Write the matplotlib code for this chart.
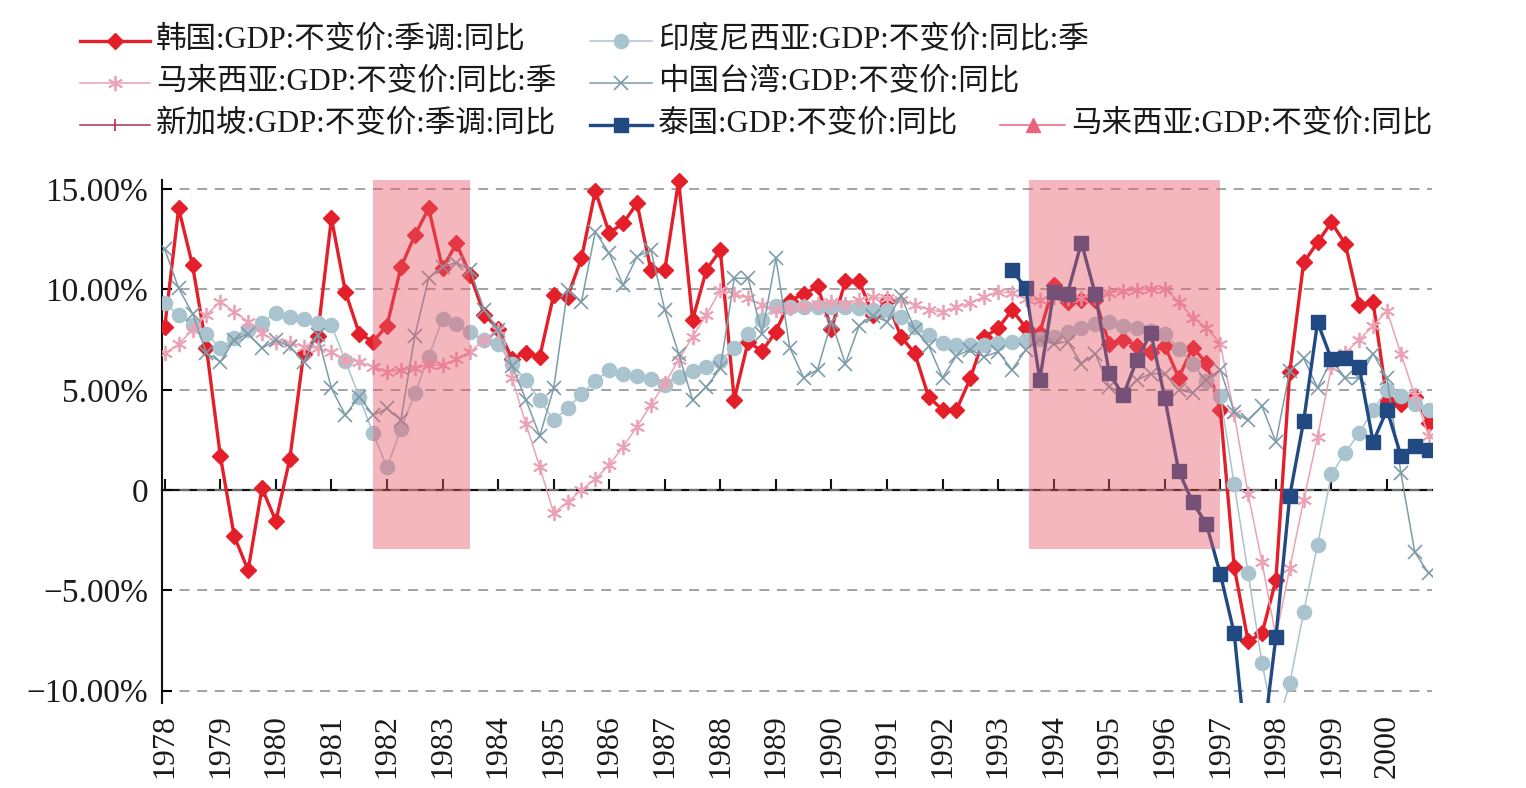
import numpy as np
import matplotlib
matplotlib.use("Agg")
import matplotlib.pyplot as plt
from matplotlib.lines import Line2D
from matplotlib.ticker import FuncFormatter

plt.rcParams['font.family'] = ['Liberation Serif', 'Noto Sans CJK SC']
plt.rcParams['axes.unicode_minus'] = True

# ---------------- data (quarterly, % yoy) ----------------
start_year = 1978
years = list(range(1978, 2001))

korea = [8.15, 14.05, 11.2, 7.1,
         1.7, -2.3, -4.0, 0.1,
         -1.55, 1.55, 6.8, 7.7,
         13.55, 9.9, 7.8, 7.4,
         8.2, 11.1, 12.7, 14.05,
         11.05, 12.3, 10.7, 8.75,
         8.05, 6.55, 6.85, 6.65,
         9.73, 9.64, 11.55, 14.92,
         12.82, 13.3, 14.3, 10.97,
         10.97, 15.42, 8.48, 10.98,
         11.97, 4.5, 7.4, 6.92,
         7.9, 9.45, 9.77, 10.15,
         8.05, 10.4, 10.4, 8.73,
         9.45, 7.65, 6.82, 4.64,
         4.0, 3.99, 5.57, 7.63,
         8.06, 8.98, 8.1, 7.85,
         10.2, 9.4, 9.5, 9.5,
         7.3, 7.5, 7.2, 6.86,
         7.2, 5.6, 7.1, 6.35,
         4.0, -3.84, -7.54, -7.15,
         -4.5, 5.9, 11.35, 12.35,
         13.35, 12.27, 9.25, 9.37,
         4.5, 4.3, 4.65, 3.35]

indonesia = [9.31, 8.73, 8.23, 7.78,
             7.07, 7.56, 7.98, 8.35,
             8.84, 8.61, 8.51, 8.31,
             8.23, 6.45, 4.65, 2.83,
             1.13, 3.03, 4.82, 6.65,
             8.53, 8.26, 7.86, 7.48,
             7.27, 6.28, 5.49, 4.47,
             3.49, 4.07, 4.8, 5.42,
             6.0, 5.8, 5.67, 5.55,
             5.24, 5.65, 5.95, 6.15,
             6.43, 7.1, 7.78, 8.48,
             9.18, 9.14, 9.12, 9.12,
             9.12, 9.12, 9.1, 8.98,
             8.98, 8.65, 8.15, 7.75,
             7.32, 7.25, 7.25, 7.23,
             7.35, 7.4, 7.5, 7.55,
             7.61, 7.9, 8.1, 8.28,
             8.4, 8.2, 8.1, 7.95,
             7.8, 7.04, 6.3, 5.45,
             4.7, 0.28, -4.14, -8.65,
             -12.0, -9.63, -6.09, -2.73,
             0.78, 1.87, 2.85, 3.98,
             4.98, 4.69, 4.29, 3.99]

malaysia_q = [6.82, 7.28, 8.0, 8.73,
              9.39, 8.89, 8.4, 7.81,
              7.4, 7.35, 7.15, 7.07,
              6.9, 6.48, 6.4, 6.15,
              5.9, 5.98, 6.07, 6.23,
              6.23, 6.52, 6.9, 7.48,
              8.0, 5.6, 3.3, 1.15,
              -1.15, -0.6, 0.0, 0.55,
              1.25, 2.16, 3.16, 4.24,
              5.32, 6.48, 7.65, 8.73,
              9.98, 9.78, 9.56, 9.23,
              8.98, 9.1, 9.2, 9.3,
              9.4, 9.3, 9.5, 9.62,
              9.56, 9.48, 9.23, 9.0,
              8.87, 9.12, 9.33, 9.64,
              9.9, 9.81, 9.53, 9.48,
              9.64, 9.6, 9.6, 9.64,
              9.85, 9.93, 9.98, 10.03,
              10.03, 9.4, 8.6, 8.1,
              7.3, 3.78, -0.2, -3.6,
              -7.33, -3.9, -0.5, 2.66,
              6.15, 6.85, 7.5, 8.18,
              8.94, 6.8, 4.72, 2.7]

taiwan = [12.0, 10.06, 8.8, 6.82,
          6.4, 7.48, 7.8, 7.07,
          7.48, 7.15, 6.4, 7.73,
          5.07, 3.74, 4.65, 3.74,
          4.07, 3.49, 7.68, 10.56,
          11.14, 11.34, 10.97, 8.98,
          8.0, 6.2, 4.5, 2.7,
          5.07, 9.98, 9.39, 12.88,
          11.8, 10.22, 11.64, 11.97,
          8.98, 6.8, 4.49, 5.15,
          6.07, 10.56, 10.56, 7.8,
          11.55, 7.1, 5.6, 6.0,
          8.4, 6.3, 8.2, 8.7,
          8.4, 9.7, 8.0, 7.2,
          5.6, 6.7, 7.0, 6.65,
          6.9, 6.0, 7.0, 7.5,
          7.3, 7.4, 6.3, 6.8,
          5.15, 4.82, 5.49, 5.8,
          5.8, 5.0, 4.85, 5.5,
          6.0, 3.9, 3.47, 4.18,
          2.4, 5.95, 6.57, 5.1,
          6.48, 5.59, 5.59, 6.8,
          5.59, 0.85, -3.1, -4.15]

thailand_start = 1993.25
thailand = [10.97, 10.06, 5.49, 9.87,
            9.8, 12.34, 9.76, 5.84,
            4.72, 6.5, 7.83, 4.6,
            0.95, -0.6, -1.7, -4.19,
            -7.15, -14.0, -13.0, -7.33,
            -0.28, 3.44, 8.37, 6.52,
            6.57, 6.12, 2.4, 4.0,
            1.72, 2.2, 2.01]

singapore = []          # no observations in this window
malaysia_annual = []    # no observations in this window

labels = ['韩国:GDP:不变价:季调:同比', '印度尼西亚:GDP:不变价:同比:季',
          '马来西亚:GDP:不变价:同比:季', '中国台湾:GDP:不变价:同比',
          '新加坡:GDP:不变价:季调:同比', '泰国:GDP:不变价:同比',
          '马来西亚:GDP:不变价:同比']

shade_start = [1981.75, 1993.55]
shade_end = [1983.5, 1997.0]
shade_low, shade_high = -2.95, 15.45

yticks = [-10, -5, 0, 5, 10, 15]
y_axis_low, y_axis_high = -10.62, 15.46

# ---------------- styles ----------------
styles = [
    dict(color='#E41F2A', lw=2.4, marker='D', ms=8.3, mec='#E41F2A', mfc='#E41F2A'),
    dict(color='#A9C4CF', lw=1.1, marker='o', ms=10.2, mec='#A9C4CF', mfc='#A9C4CF'),
    dict(color='#EBA2B5', lw=1.1, marker=(6, 2, 0), ms=11, mew=1.3, mec='#EBA2B5'),
    dict(color='#7D9CAA', lw=1.1, marker='x', ms=10, mew=1.2, mec='#7D9CAA'),
    dict(color='#B0304F', lw=1.1, marker='|', ms=8, mew=1.2, mec='#B0304F'),
    dict(color='#224A82', lw=2.4, marker='s', ms=10.5, mec='#224A82', mfc='#224A82'),
    dict(color='#E8637C', lw=1.1, marker='^', ms=10, mec='#E8637C', mfc='#E8637C'),
]

W, H = 1526, 788
px_per_pct = 20.05
top_extra = 0.8  # headroom so peak markers are not cut
ax_top_px = 180 - top_extra * px_per_pct
fig = plt.figure(figsize=(W / 100, H / 100), dpi=100)
ax = fig.add_axes([162 / W, 1 - 703 / H, (1432 - 162) / W, (703 - ax_top_px) / H])

def qtime(n, start):
    return start + np.arange(n) / 4.0

series = [korea, indonesia, malaysia_q, taiwan, singapore, thailand, malaysia_annual]
starts = [start_year, start_year, start_year, start_year, start_year, thailand_start, start_year]
for i, (vals, st, sty) in enumerate(zip(series, starts, styles)):
    if len(vals) == 0:
        continue
    ax.plot(qtime(len(vals), st), vals, zorder=3 + i * 0.1, **sty)

# shaded periods (semi-transparent, drawn above lines)
for s, e in zip(shade_start, shade_end):
    ax.fill_between([s, e], [shade_low, shade_low], [shade_high, shade_high],
                    color='#E85A6A', alpha=0.43, lw=0, zorder=10)

ax.set_xlim(1977.95, 2000.81)
ax.set_ylim(y_axis_low, y_axis_high + top_extra)

# grid
ax.set_yticks(yticks)
ax.yaxis.grid(True, linestyle=(0, (6.5, 5)), color='#8a8a8a', lw=1.1, zorder=1)
ax.set_axisbelow(True)

def fmt(v, pos):
    if abs(v) < 1e-9:
        return '0'
    s = f'{v:.2f}%'
    return s.replace('-', '\u2212')
ax.yaxis.set_major_formatter(FuncFormatter(fmt))
ax.tick_params(axis='y', direction='in', length=7, width=1.5, labelsize=24, pad=10,
               labelcolor='#1a1a1a')

ax.set_xticks(years)
ax.set_xticklabels([str(y) for y in years], rotation=90)
ax.tick_params(axis='x', length=0, labelsize=23, pad=8, labelcolor='#1a1a1a')

for sp in ['top', 'right', 'bottom']:
    ax.spines[sp].set_visible(False)
ax.spines['left'].set_linewidth(1.5)
ax.spines['left'].set_color('#111111')
ax.spines['left'].set_bounds(y_axis_low, y_axis_high)

# zero axis with upward tick marks
sec = ax.secondary_xaxis(0, transform=ax.transData)
sec.set_xticks(years)
sec.tick_params(axis='x', direction='in', length=8, width=1.5, labelbottom=False,
                labeltop=False, color='#111111')
sec.spines['bottom'].set_linewidth(1.6)
sec.spines['bottom'].set_color('#111111')

# ---------------- legend (manual layout) ----------------
leg_rows = [41, 83, 125]
leg_pos = [(80, 150, 0), (590, 652, 0),
           (80, 150, 1), (590, 652, 1),
           (80, 150, 2), (590, 652, 2),
           (1000, 1065, 2)]
for (x0, x1, r), lab, sty in zip(leg_pos, labels, styles):
    y = 1 - leg_rows[r] / H
    ln = Line2D([x0 / W, (x0 + x1) / 2 / W, x1 / W], [y, y, y],
                transform=fig.transFigure, markevery=[1], **sty)
    fig.add_artist(ln)
    fig.text((x1 + 6) / W, y, lab, ha='left', va='center', fontsize=22,
             color='#1a1a1a', fontweight='light')

fig.savefig('out.png', dpi=100)
